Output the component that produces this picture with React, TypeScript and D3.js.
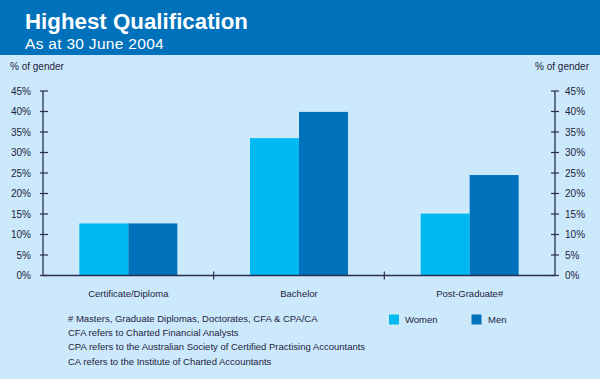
import React from "react";
import * as d3 from "d3";

const categories = ["Certificate/Diploma", "Bachelor", "Post-Graduate#"];
const women = [12.7, 33.5, 15.1];
const men = [12.7, 39.9, 24.5];
const seriesNames = ["Women", "Men"];
const yTicks = [0, 5, 10, 15, 20, 25, 30, 35, 40, 45];
const notes = [
  "# Masters, Graduate Diplomas, Doctorates, CFA & CPA/CA",
  "CFA refers to Charted Financial Analysts",
  "CPA refers to the Australian Society of Certified Practising Accountants",
  "CA refers to the Institute of Charted Accountants",
];

const W = 600, H = 379;
const BG = "#cbe9fb";
const HEAD = "#0071bb";
const C_W = "#00b9f1";
const C_M = "#0071bb";
const AX = "#2b2d55";
const TXT = "#1f2240";
const FONT = "'Liberation Sans', Arial, sans-serif";

export default function App() {
  const left = 43, right = 555, top = 91, bottom = 275.5;
  const x = d3.scaleBand<string>().domain(categories).range([left, right]);
  const y = d3.scaleLinear().domain([0, 45]).range([bottom, top]);
  const barW = 49;
  const series = [women, men];
  const colors = [C_W, C_M];

  return (
    <svg width={W} height={H} style={{ position: "absolute", left: 0, top: 0, display: "block" }} fontFamily={FONT}>
      <rect x={0} y={0} width={W} height={H} fill={BG} />
      <rect x={0} y={0} width={W} height={55} fill={HEAD} />
      <text x={25} y={28.5} fill="#fff" fontSize={22.3} fontWeight="bold">Highest Qualification</text>
      <text x={25} y={48.5} fill="#fff" fontSize={15.5} letterSpacing={0.3}>As at 30 June 2004</text>

      <text x={10} y={70} fontSize={10} fill={TXT}>% of gender</text>
      <text x={589} y={70} fontSize={10} fill={TXT} textAnchor="end">% of gender</text>

      {categories.map((c, i) =>
        series.map((s, j) => (
          <rect
            key={c + j}
            x={(x(c) as number) + x.bandwidth() / 2 - barW + j * barW}
            y={y(s[i])}
            width={barW}
            height={y(0) - y(s[i])}
            fill={colors[j]}
          />
        ))
      )}

      {/* left axis */}
      <line x1={left} x2={left} y1={top} y2={bottom} stroke={AX} strokeWidth={1.3} />
      {yTicks.map((t) => (
        <g key={"l" + t}>
          <line x1={left - 3} x2={left + 5} y1={y(t)} y2={y(t)} stroke={AX} strokeWidth={1.2} />
          <text x={31} y={y(t) + 3.5} fontSize={10} fill={TXT} textAnchor="end">{t}%</text>
        </g>
      ))}
      {/* right axis */}
      <line x1={right} x2={right} y1={top} y2={bottom} stroke={AX} strokeWidth={1.3} />
      {yTicks.map((t) => (
        <g key={"r" + t}>
          <line x1={right - 4} x2={right + 4} y1={y(t)} y2={y(t)} stroke={AX} strokeWidth={1.2} />
          <text x={565} y={y(t) + 3.5} fontSize={10} fill={TXT}>{t}%</text>
        </g>
      ))}
      {/* bottom axis */}
      <line x1={left} x2={right} y1={bottom} y2={bottom} stroke={AX} strokeWidth={1.3} />
      {categories.slice(1).map((c) => (
        <line key={"t" + c} x1={x(c) as number} x2={x(c) as number} y1={bottom - 4} y2={bottom + 4} stroke={AX} strokeWidth={1.2} />
      ))}
      {categories.map((c) => (
        <text key={"c" + c} x={(x(c) as number) + x.bandwidth() / 2} y={297} fontSize={9.5} fill={TXT} textAnchor="middle">{c}</text>
      ))}

      {notes.map((n, i) => (
        <text key={"n" + i} x={68} y={322 + i * 14.2} fontSize={9.5} fill={TXT}>{n}</text>
      ))}

      {seriesNames.map((s, i) => (
        <g key={"lg" + s}>
          <rect x={389 + i * 82.5} y={314.5} width={10} height={10} fill={colors[i]} />
          <text x={405 + i * 83} y={322.5} fontSize={9.5} fill={TXT}>{s}</text>
        </g>
      ))}
    </svg>
  );
}
